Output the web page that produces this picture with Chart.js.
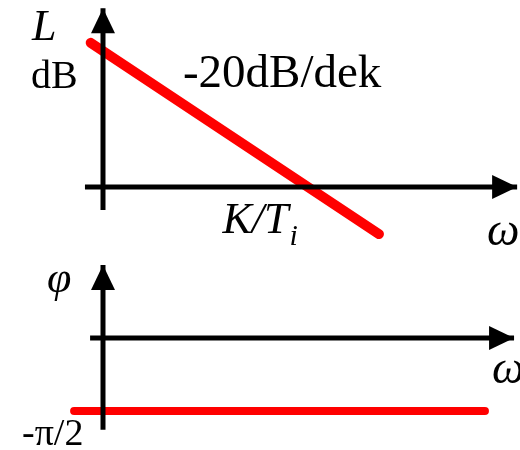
<!DOCTYPE html>
<html>
<head>
<meta charset="utf-8">
<script src="https://cdn.jsdelivr.net/npm/chart.js@4"></script>
<style>
  html, body { margin: 0; padding: 0; background: #fff; }
  #wrap { width: 520px; height: 450px; }
</style>
</head>
<body>
<div id="wrap"><canvas id="bode"></canvas></div>
<script>
// log10(omega), 0 = vertical axis, 1 = K/Ti
const magOmega = [-0.06, 1.346];
const magDb = [21.2, -6.92];          // -20 dB/dek
const phaseOmega = [-0.141, 1.863];
const phaseDeg = [-90, -90];          // -pi/2

const magAxisY = [-3.4, 26.3];        // L axis range (dB)
const magAxisX = [-0.088, 2.02];      // omega axis range
const phaseAxisY = [-113, 90];        // phi axis range (deg)
const phaseAxisX = [-0.063, 2.005];

const FONT = "'Liberation Serif', 'Times New Roman', serif";

function pts(xs, ys) {
    return xs.map((x, i) => ({ x: x, y: ys[i] }));
}

function lineSet(data, color, width, axis, arrow) {
    return {
        data: data,
        yAxisID: axis,
        borderColor: color,
        borderWidth: width,
        borderCapStyle: arrow ? 'butt' : 'round',
        pointRadius: 0,
        showLine: true,
        clip: false,
        arrow: arrow
    };
}

const datasets = [
    lineSet(pts([0, 0], magAxisY), '#000', 5, 'yMag', true),
    lineSet(pts(magAxisX, [0, 0]), '#000', 5, 'yMag', true),
    lineSet(pts([0, 0], phaseAxisY), '#000', 5, 'yPhase', true),
    lineSet(pts(phaseAxisX, [0, 0]), '#000', 5, 'yPhase', true),
    lineSet(pts(magOmega, magDb), '#ff0000', 10, 'yMag', false),
    lineSet(pts(phaseOmega, phaseDeg), '#ff0000', 8, 'yPhase', false)
];

// text labels placed in data coordinates
const labels = [
    { text: 'L', x: -0.346, y: 21.6, axis: 'yMag', font: 'italic 44px ' + FONT },
    { text: 'dB', x: -0.351, y: 14.56, axis: 'yMag', font: '40px ' + FONT },
    { text: '-20dB/dek', x: 0.39, y: 14.7, axis: 'yMag', font: '47px ' + FONT },
    { text: 'K/T', x: 0.583, y: -6.76, axis: 'yMag', font: 'italic 44px ' + FONT, sub: 'i' },
    { text: 'ω', x: 1.873, y: -8.5, axis: 'yMag', font: 'italic 46px ' + FONT },
    { text: 'φ', x: -0.273, y: 56.7, axis: 'yPhase', font: 'italic 44px ' + FONT },
    { text: 'ω', x: 1.897, y: -55.5, axis: 'yPhase', font: 'italic 46px ' + FONT },
    { text: '-π/2', x: -0.395, y: -132, axis: 'yPhase', font: '38px ' + FONT }
];

const arrowHeads = {
    id: 'arrowHeads',
    afterDatasetsDraw(chart) {
        const ctx = chart.ctx;
        chart.data.datasets.forEach((ds, i) => {
            if (!ds.arrow) return;
            const els = chart.getDatasetMeta(i).data;
            const a = els[els.length - 2], b = els[els.length - 1];
            const ang = Math.atan2(b.y - a.y, b.x - a.x);
            const len = 25, half = 12;
            ctx.save();
            ctx.translate(b.x, b.y);
            ctx.rotate(ang);
            ctx.fillStyle = ds.borderColor;
            ctx.beginPath();
            ctx.moveTo(0, 0);
            ctx.lineTo(-len, -half);
            ctx.lineTo(-len, half);
            ctx.closePath();
            ctx.fill();
            ctx.restore();
        });
    }
};

const textLabels = {
    id: 'textLabels',
    afterDraw(chart) {
        const ctx = chart.ctx;
        const xs = chart.scales.x;
        ctx.save();
        ctx.fillStyle = '#000';
        ctx.textAlign = 'left';
        ctx.textBaseline = 'alphabetic';
        labels.forEach(l => {
            const px = xs.getPixelForValue(l.x);
            const py = chart.scales[l.axis].getPixelForValue(l.y);
            ctx.font = l.font;
            ctx.fillText(l.text, px, py);
            if (l.sub) {
                const w = ctx.measureText(l.text).width;
                ctx.font = 'italic 30px ' + FONT;
                ctx.fillText(l.sub, px + w + 1, py + 12);
            }
        });
        ctx.restore();
    }
};

new Chart(document.getElementById('bode'), {
    type: 'scatter',
    data: { datasets: datasets },
    options: {
        responsive: true,
        maintainAspectRatio: false,
        animation: false,
        layout: { padding: 0 },
        plugins: { legend: { display: false }, tooltip: { enabled: false } },
        scales: {
            x: { type: 'linear', display: false, min: -0.5024, max: 2.034 },
            yMag: { type: 'linear', display: false, min: -38.68, max: 27.5 },
            yPhase: { type: 'linear', display: false, min: -138.1, max: 416.8 }
        }
    },
    plugins: [arrowHeads, textLabels]
});
</script>
</body>
</html>
